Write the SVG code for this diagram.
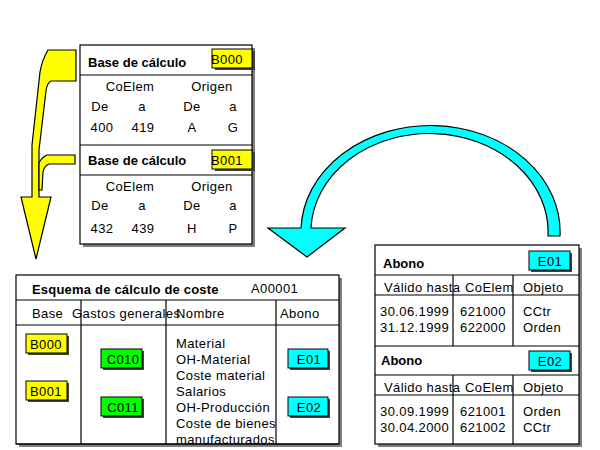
<svg xmlns="http://www.w3.org/2000/svg" width="600" height="450" viewBox="0 0 600 450">
<style>
.t{font-family:"Liberation Sans",Arial,sans-serif;font-size:13px;letter-spacing:0.4px;fill:#000}
.b{font-family:"Liberation Sans",Arial,sans-serif;font-size:13px;font-weight:bold;fill:#000}
.m{text-anchor:middle}
.frame{fill:#fff;stroke:#000;stroke-width:1.2}
.sh{fill:#808080}
.ln{stroke:#000;stroke-width:1.2;fill:none}
.tag{stroke:#000;stroke-width:1}
.tsh{fill:#404040}
.y{fill:#ffff00}
.g{fill:#00ff00}
.c{fill:#00ffff}
.arr{stroke:#000;stroke-width:1.2;stroke-linejoin:miter}
</style>
<rect width="600" height="450" fill="#fff"/>

<g id="connectors">
  <path class="arr y" d="M48,50 L76,50 L76,81 L51,81 Q47,83 46,91 L39,150 L39,197 L51,197 L36,259 L21,197 L32,197 L32,145 L40,72 Q42,60 48,50 Z"/>
  <path class="arr y" d="M47,155 L75,155 L75,164 L49,164 Q44,166 43,172 L42,190 L39,190 L39,163 Q42,157 47,155 Z"/>
  <path class="arr c" d="M548,236 A118,98 0 0 0 311,228 L345,228 L307,257 L268,228 L301,228 A129,106 0 0 1 560,236 Z"/>
</g>

<g id="base-calculo">
  <rect class="sh" x="83" y="48" width="172" height="199"/>
  <rect class="frame" x="80" y="45" width="172" height="199"/>
  <line class="ln" x1="80" y1="75" x2="252" y2="75"/>
  <line class="ln" x1="80" y1="145" x2="252" y2="145"/>
  <line class="ln" x1="80" y1="175" x2="252" y2="175"/>
  <text class="b" x="88" y="67">Base de cálculo</text>
  <rect class="tsh" x="215" y="51" width="40" height="19"/>
  <rect class="tag y" x="212" y="49" width="40" height="19"/>
  <text class="t" x="211" y="64">B000</text>
  <text class="t m" x="130" y="91">CoElem</text>
  <text class="t m" x="212" y="91">Origen</text>
  <text class="t m" x="100" y="111">De</text>
  <text class="t m" x="142" y="111">a</text>
  <text class="t m" x="192" y="111">De</text>
  <text class="t m" x="233" y="111">a</text>
  <text class="t m" x="102" y="132">400</text>
  <text class="t m" x="143" y="132">419</text>
  <text class="t m" x="192" y="132">A</text>
  <text class="t m" x="233" y="132">G</text>
  <text class="b" x="88" y="165">Base de cálculo</text>
  <rect class="tsh" x="215" y="152" width="40" height="19"/>
  <rect class="tag y" x="212" y="150" width="40" height="19"/>
  <text class="t" x="211" y="165">B001</text>
  <text class="t m" x="130" y="191">CoElem</text>
  <text class="t m" x="212" y="191">Origen</text>
  <text class="t m" x="100" y="210">De</text>
  <text class="t m" x="142" y="210">a</text>
  <text class="t m" x="192" y="210">De</text>
  <text class="t m" x="233" y="210">a</text>
  <text class="t m" x="102" y="233">432</text>
  <text class="t m" x="143" y="233">439</text>
  <text class="t m" x="192" y="233">H</text>
  <text class="t m" x="233" y="233">P</text>
</g>

<g id="esquema">
  <rect class="sh" x="19" y="278" width="323" height="169"/>
  <rect class="frame" x="16" y="275" width="323" height="169"/>
  <line class="ln" x1="16" y1="300" x2="339" y2="300"/>
  <line class="ln" x1="16" y1="325" x2="339" y2="325"/>
  <line class="ln" x1="81" y1="300" x2="81" y2="444"/>
  <line class="ln" x1="166" y1="300" x2="166" y2="444"/>
  <line class="ln" x1="276" y1="300" x2="276" y2="444"/>
  <text class="b" x="32" y="294" style="letter-spacing:0.2px">Esquema de cálculo de coste</text>
  <text class="t" x="251" y="293">A00001</text>
  <text class="t" x="32" y="318">Base</text>
  <text class="t" x="72" y="318">Gastos generales</text>
  <text class="t" x="176" y="318">Nombre</text>
  <text class="t" x="280" y="318">Abono</text>
  <rect class="tsh" x="28" y="336" width="41" height="19"/>
  <rect class="tag y" x="26" y="334" width="41" height="19"/>
  <text class="t m" x="46" y="349">B000</text>
  <rect class="tsh" x="28" y="383" width="41" height="19"/>
  <rect class="tag y" x="26" y="381" width="41" height="19"/>
  <text class="t m" x="46" y="396">B001</text>
  <rect class="tsh" x="103" y="351" width="41" height="19"/>
  <rect class="tag g" x="101" y="349" width="41" height="19"/>
  <text class="t m" x="123" y="364">C010</text>
  <rect class="tsh" x="103" y="399" width="41" height="19"/>
  <rect class="tag g" x="101" y="397" width="41" height="19"/>
  <text class="t m" x="123" y="412">C011</text>
  <rect class="tsh" x="290" y="351" width="40" height="19"/>
  <rect class="tag c" x="288" y="349" width="40" height="19"/>
  <text class="t m" x="309" y="364">E01</text>
  <rect class="tsh" x="290" y="399" width="40" height="19"/>
  <rect class="tag c" x="288" y="397" width="40" height="19"/>
  <text class="t m" x="309" y="412">E02</text>
  <text class="t" x="176" y="348">Material</text>
  <text class="t" x="176" y="364">OH-Material</text>
  <text class="t" x="176" y="380">Coste material</text>
  <text class="t" x="176" y="396">Salarios</text>
  <text class="t" x="176" y="412">OH-Producción</text>
  <text class="t" x="176" y="428">Coste de bienes</text>
  <text class="t" x="176" y="444">manufacturados</text>
  <line class="ln" x1="16" y1="444" x2="339" y2="444"/>
</g>

<g id="abono">
  <rect class="sh" x="378" y="248" width="204" height="199"/>
  <rect class="frame" x="375" y="245" width="204" height="199"/>
  <line class="ln" x1="375" y1="275" x2="579" y2="275"/>
  <line class="ln" x1="375" y1="295" x2="579" y2="295"/>
  <line class="ln" x1="375" y1="346" x2="579" y2="346"/>
  <line class="ln" x1="375" y1="375" x2="579" y2="375"/>
  <line class="ln" x1="375" y1="395" x2="579" y2="395"/>
  <line class="ln" x1="453" y1="275" x2="453" y2="346"/>
  <line class="ln" x1="513" y1="275" x2="513" y2="346"/>
  <line class="ln" x1="453" y1="375" x2="453" y2="444"/>
  <line class="ln" x1="513" y1="375" x2="513" y2="444"/>
  <text class="b" x="383" y="268">Abono</text>
  <rect class="tsh" x="531" y="253" width="41" height="19"/>
  <rect class="tag c" x="529" y="251" width="41" height="19"/>
  <text class="t m" x="550" y="266">E01</text>
  <text class="t" x="384" y="292">Válido hasta</text>
  <text class="t" x="465" y="292">CoElem</text>
  <text class="t" x="523" y="292">Objeto</text>
  <text class="t" x="380" y="316">30.06.1999</text>
  <text class="t" x="460" y="316">621000</text>
  <text class="t" x="523" y="316">CCtr</text>
  <text class="t" x="380" y="332">31.12.1999</text>
  <text class="t" x="460" y="332">622000</text>
  <text class="t" x="523" y="332">Orden</text>
  <text class="b" x="381" y="365">Abono</text>
  <rect class="tsh" x="531" y="353" width="41" height="19"/>
  <rect class="tag c" x="529" y="351" width="41" height="19"/>
  <text class="t m" x="550" y="366">E02</text>
  <text class="t" x="384" y="392">Válido hasta</text>
  <text class="t" x="465" y="392">CoElem</text>
  <text class="t" x="523" y="392">Objeto</text>
  <text class="t" x="380" y="416">30.09.1999</text>
  <text class="t" x="460" y="416">621001</text>
  <text class="t" x="523" y="416">Orden</text>
  <text class="t" x="380" y="432">30.04.2000</text>
  <text class="t" x="460" y="432">621002</text>
  <text class="t" x="523" y="432">CCtr</text>
</g>
</svg>
